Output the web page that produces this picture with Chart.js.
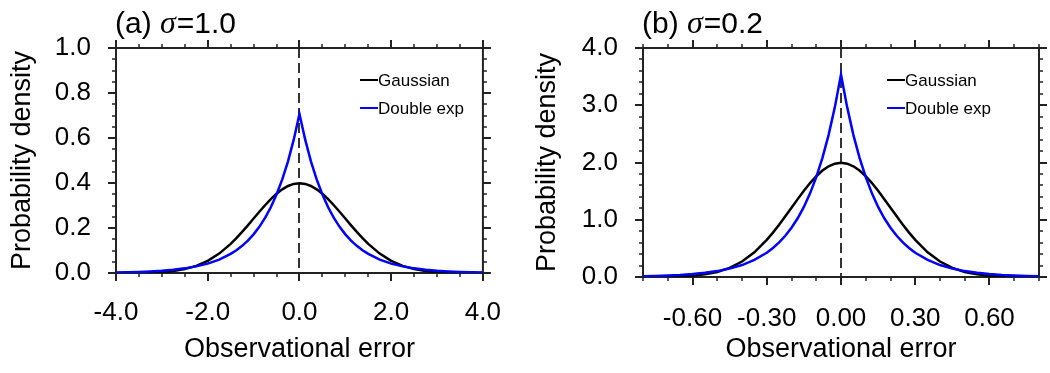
<!DOCTYPE html>
<html lang="en">
<head>
<meta charset="UTF-8">
<title>Gaussian vs double exponential error</title>
<script src="https://cdn.jsdelivr.net/npm/chart.js"></script>
<style>
  html, body { margin: 0; padding: 0; background: #fff; }
  .wrap { display: flex; width: 1050px; height: 373px; }
  .panel { width: 525px; height: 373px; }
</style>
</head>
<body>
<div class="wrap">
  <div class="panel"><canvas id="chartA" width="525" height="373"></canvas></div>
  <div class="panel"><canvas id="chartB" width="525" height="373"></canvas></div>
</div>
<script>
// (a) sigma = 1.0
const errA = [-4, -3.75, -3.5, -3.25, -3, -2.75, -2.5, -2.25, -2, -1.75, -1.5, -1.375, -1.25, -1.125, -1, -0.875, -0.75, -0.625, -0.5, -0.375, -0.25, -0.125,
  0, 0.125, 0.25, 0.375, 0.5, 0.625, 0.75, 0.875, 1, 1.125, 1.25, 1.375, 1.5, 1.75, 2, 2.25, 2.5, 2.75, 3, 3.25, 3.5, 3.75, 4];
const gaussA = [0.0001, 0.0004, 0.0009, 0.0020, 0.0044, 0.0091, 0.0175, 0.0317, 0.0540, 0.0863, 0.1295, 0.1550, 0.1826, 0.2119, 0.2420, 0.2720, 0.3011, 0.3282, 0.3521, 0.3718, 0.3867, 0.3958,
  0.3989, 0.3958, 0.3867, 0.3718, 0.3521, 0.3282, 0.3011, 0.2720, 0.2420, 0.2119, 0.1826, 0.1550, 0.1295, 0.0863, 0.0540, 0.0317, 0.0175, 0.0091, 0.0044, 0.0020, 0.0009, 0.0004, 0.0001];
const dexpA = [0.0025, 0.0035, 0.0050, 0.0071, 0.0102, 0.0145, 0.0206, 0.0294, 0.0418, 0.0595, 0.0848, 0.1011, 0.1207, 0.1440, 0.1719, 0.2051, 0.2448, 0.2922, 0.3487, 0.4161, 0.4965, 0.5926,
  0.7071, 0.5926, 0.4965, 0.4161, 0.3487, 0.2922, 0.2448, 0.2051, 0.1719, 0.1440, 0.1207, 0.1011, 0.0848, 0.0595, 0.0418, 0.0294, 0.0206, 0.0145, 0.0102, 0.0071, 0.0050, 0.0035, 0.0025];

// (b) sigma = 0.2
const errB = [-0.8, -0.75, -0.7, -0.65, -0.6, -0.55, -0.5, -0.45, -0.4, -0.35, -0.3, -0.275, -0.25, -0.225, -0.2, -0.175, -0.15, -0.125, -0.1, -0.075, -0.05, -0.025,
  0, 0.025, 0.05, 0.075, 0.1, 0.125, 0.15, 0.175, 0.2, 0.225, 0.25, 0.275, 0.3, 0.35, 0.4, 0.45, 0.5, 0.55, 0.6, 0.65, 0.7, 0.75, 0.8];
const gaussB = [0.0007, 0.002, 0.0045, 0.010, 0.022, 0.046, 0.088, 0.159, 0.270, 0.432, 0.648, 0.775, 0.913, 1.060, 1.210, 1.360, 1.506, 1.641, 1.760, 1.859, 1.933, 1.979,
  1.995, 1.979, 1.933, 1.859, 1.760, 1.641, 1.506, 1.360, 1.210, 1.060, 0.913, 0.775, 0.648, 0.432, 0.270, 0.159, 0.088, 0.046, 0.022, 0.010, 0.0045, 0.002, 0.0007];
const dexpB = [0.0125, 0.0175, 0.025, 0.0355, 0.051, 0.0725, 0.103, 0.147, 0.209, 0.298, 0.424, 0.506, 0.604, 0.720, 0.860, 1.026, 1.224, 1.461, 1.744, 2.081, 2.483, 2.963,
  3.536, 2.963, 2.483, 2.081, 1.744, 1.461, 1.224, 1.026, 0.860, 0.720, 0.604, 0.506, 0.424, 0.298, 0.209, 0.147, 0.103, 0.0725, 0.051, 0.0355, 0.025, 0.0175, 0.0125];

const seriesNames = ['Gaussian', 'Double exp'];
const xTicksA = [-4, -2, 0, 2, 4];
const yTicksA = [0, 0.2, 0.4, 0.6, 0.8, 1.0];
const xTicksB = [-0.6, -0.3, 0, 0.3, 0.6];
const yTicksB = [0, 1, 2, 3, 4];

const SANS = '"Liberation Sans", Arial, sans-serif';

function range(min, max, step) {
  const out = [];
  const n = Math.round((max - min) / step);
  for (let i = 0; i <= n; i++) out.push(Math.round((min + i * step) * 10000) / 10000);
  return out;
}

// frame, outward tick marks, dashed zero line, title and legend
const framePlugin = {
  id: 'frame',
  beforeDatasetsDraw(chart, args, o) {
    const { ctx, chartArea: a, scales: { x, y } } = chart;
    ctx.save();
    ctx.lineWidth = 2;

    const x0 = Math.round(x.getPixelForValue(0));
    ctx.setLineDash([10, 5]);
    ctx.strokeStyle = '#333';
    ctx.beginPath();
    ctx.moveTo(x0, a.top);
    ctx.lineTo(x0, a.bottom);
    ctx.stroke();
    ctx.setLineDash([]);

    ctx.strokeStyle = '#222';
    ctx.strokeRect(a.left, a.top, a.right - a.left, a.bottom - a.top);

    const drawX = (vals, len) => {
      vals.forEach(v => {
        const p = Math.round(x.getPixelForValue(v));
        ctx.beginPath();
        ctx.moveTo(p, a.bottom); ctx.lineTo(p, a.bottom + len);
        ctx.moveTo(p, a.top); ctx.lineTo(p, a.top - len);
        ctx.stroke();
      });
    };
    const drawY = (vals, len) => {
      vals.forEach(v => {
        const p = Math.round(y.getPixelForValue(v));
        ctx.beginPath();
        ctx.moveTo(a.left, p); ctx.lineTo(a.left - len, p);
        ctx.moveTo(a.right, p); ctx.lineTo(a.right + len, p);
        ctx.stroke();
      });
    };
    ctx.lineWidth = 1.5;
    drawX(o.xMinor, 4);
    drawY(o.yMinor, 4);
    ctx.lineWidth = 2;
    drawX(o.xMajor, 8);
    drawY(o.yMajor, 8);
    ctx.restore();
  },
  afterDraw(chart, args, o) {
    const { ctx, chartArea: a } = chart;
    ctx.save();
    ctx.fillStyle = '#000';
    ctx.textBaseline = 'alphabetic';
    let tx = a.left - 1;
    ctx.font = '30px ' + SANS;
    ctx.fillText(o.tag, tx, 33);
    tx += ctx.measureText(o.tag).width;
    ctx.font = 'italic 32px "Liberation Serif", serif';
    ctx.fillText('σ', tx, 33);
    tx += ctx.measureText('σ').width + 1;
    ctx.font = '30px ' + SANS;
    ctx.fillText(o.value, tx, 33);

    // legend
    ctx.font = '17px ' + SANS;
    ctx.textBaseline = 'middle';
    chart.data.datasets.forEach((ds, i) => {
      const ly = a.top + 32 + i * 28;
      const lx = a.left + 244;
      ctx.strokeStyle = ds.borderColor;
      ctx.lineWidth = 2;
      ctx.beginPath();
      ctx.moveTo(lx, ly); ctx.lineTo(lx + 18, ly);
      ctx.stroke();
      ctx.fillText(ds.label, lx + 18, ly + 1);
    });
    ctx.restore();
  }
};

function makeChart(id, cfg) {
  const pts = arr => cfg.err.map((e, i) => ({ x: e, y: arr[i] }));
  return new Chart(document.getElementById(id), {
    type: 'line',
    data: {
      datasets: [
        { label: seriesNames[0], data: pts(cfg.gauss), borderColor: '#000000', borderWidth: 2.5, pointRadius: 0, tension: 0, order: 1 },
        { label: seriesNames[1], data: pts(cfg.dexp), borderColor: '#0000ff', borderWidth: 2.5, pointRadius: 0, tension: 0, order: 0 }
      ]
    },
    plugins: [framePlugin],
    options: {
      responsive: false,
      animation: false,
      layout: { padding: { left: 0, right: cfg.padRight, top: 48, bottom: 0 } },
      plugins: {
        legend: { display: false },
        tooltip: { enabled: false },
        frame: {
          tag: cfg.tag, value: cfg.value,
          xMajor: cfg.xTicks, yMajor: cfg.yTicks,
          xMinor: cfg.xMinor, yMinor: cfg.yMinor
        }
      },
      scales: {
        x: {
          type: 'linear',
          min: cfg.xMin, max: cfg.xMax,
          grid: { display: false, drawTicks: false },
          border: { display: false },
          afterBuildTicks: s => { s.ticks = cfg.xTicks.map(v => ({ value: v })); },
          afterFit: s => { s.height = cfg.xHeight; },
          ticks: {
            padding: cfg.xPad, color: '#000', maxRotation: 0, autoSkip: false,
            font: { family: SANS, size: 26 },
            callback: v => Number(v).toFixed(cfg.xDec)
          },
          title: {
            display: true, text: 'Observational error', color: '#000',
            font: { family: SANS, size: 27 }, padding: { top: 0, bottom: 7 }
          }
        },
        y: {
          min: 0, max: cfg.yMax,
          grid: { display: false, drawTicks: false },
          border: { display: false },
          afterBuildTicks: s => { s.ticks = cfg.yTicks.map(v => ({ value: v })); },
          afterFit: s => { s.width = cfg.yWidth; },
          ticks: {
            padding: 25, color: '#000',
            font: { family: SANS, size: 26 },
            callback: v => Number(v).toFixed(1)
          },
          title: {
            display: true, text: 'Probability density', color: '#000',
            font: { family: SANS, size: 27 }, padding: { top: 6, bottom: 0 }
          }
        }
      }
    }
  });
}

makeChart('chartA', {
  err: errA, gauss: gaussA, dexp: dexpA,
  tag: '(a) ', value: '=1.0',
  xMin: -4, xMax: 4, yMax: 1,
  xTicks: xTicksA, yTicks: yTicksA,
  xMinor: range(-4, 4, 0.5), yMinor: range(0, 1, 0.05),
  xDec: 1, xPad: 24, xHeight: 100, yWidth: 116, padRight: 22
});

makeChart('chartB', {
  err: errB, gauss: gaussB, dexp: dexpB,
  tag: '(b) ', value: '=0.2',
  xMin: -0.8, xMax: 0.8, yMax: 4,
  xTicks: xTicksB, yTicks: yTicksB,
  xMinor: range(-0.8, 0.8, 0.1), yMinor: range(0, 4, 0.2),
  xDec: 2, xPad: 26, xHeight: 96, yWidth: 118, padRight: 11
});
</script>
</body>
</html>
